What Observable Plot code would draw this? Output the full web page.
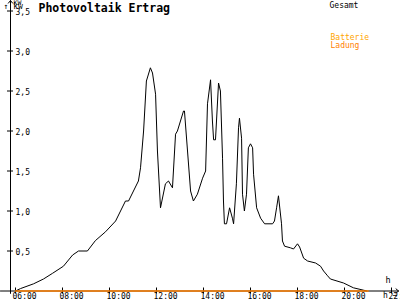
<!DOCTYPE html>
<html><head><meta charset="utf-8">
<script src="https://cdn.jsdelivr.net/npm/d3@7"></script>
<script src="https://cdn.jsdelivr.net/npm/@observablehq/plot@0.6"></script>
<style>body{margin:0;background:#fff}</style>
</head><body><div id="chart"></div>
<script>
const hours = [6.00, 6.21, 6.77, 7.19, 7.57, 8.04, 8.43, 8.68, 9.06, 9.40, 9.83, 10.26, 10.68, 10.81, 11.02, 11.23, 11.32, 11.45, 11.57, 11.74, 11.83, 11.96, 12.04, 12.17, 12.38, 12.51, 12.68, 12.81, 12.89, 13.15, 13.19, 13.32, 13.45, 13.57, 13.74, 13.96, 14.09, 14.17, 14.30, 14.38, 14.43, 14.51, 14.64, 14.72, 14.81, 14.85, 14.89, 14.98, 15.11, 15.23, 15.28, 15.40, 15.49, 15.53, 15.62, 15.66, 15.74, 15.83, 15.91, 16.00, 16.09, 16.13, 16.26, 16.43, 16.60, 16.94, 17.02, 17.11, 17.19, 17.32, 17.36, 17.45, 17.70, 17.83, 18.00, 18.09, 18.26, 18.43, 18.77, 18.98, 19.11, 19.28, 19.40, 19.96, 20.38, 20.81, 20.95];
const gesamtKW = [0.00, 0.03, 0.09, 0.15, 0.22, 0.31, 0.45, 0.50, 0.50, 0.63, 0.74, 0.875, 1.125, 1.125, 1.25, 1.375, 1.54, 2.00, 2.625, 2.79, 2.725, 2.46, 1.75, 1.04, 1.34, 1.375, 1.29, 1.96, 2.00, 2.25, 2.25, 1.75, 1.25, 1.125, 1.21, 1.41, 1.50, 2.34, 2.64, 2.125, 1.89, 1.89, 2.60, 2.50, 1.66, 1.125, 0.84, 0.84, 1.04, 0.91, 0.84, 1.34, 2.04, 2.16, 1.91, 1.21, 1.00, 1.21, 1.79, 1.84, 1.79, 1.46, 1.04, 0.91, 0.84, 0.84, 0.875, 1.04, 1.19, 0.84, 0.625, 0.56, 0.54, 0.525, 0.59, 0.55, 0.41, 0.375, 0.35, 0.31, 0.25, 0.19, 0.15, 0.10, 0.04, 0.01, 0.00];
const batHours = [6, 21];
const batKW = [0, 0];
const xTicks = [6, 8, 10, 12, 14, 16, 18, 20, 22];
const xTickLabels = ["06:00", "08:00", "10:00", "12:00", "14:00", "16:00", "18:00", "20:00", "22:"];
const yTicks = [0.5, 1, 1.5, 2, 2.5, 3, 3.5];
const yTickLabels = ["0,5", "1,0", "1,5", "2,0", "2,5", "3,0", "3,5"];
const title = "Photovoltaik Ertrag";
const seriesNames = ["Gesamt", "Batterie", "Ladung"];
const seriesColors = ["#000000", "#ffa500", "#ff8000"];
const yUnit = "KW";
const xUnit = "h";
const yAxisAt = 5.787;          // hour where the vertical axis sits
const xAxisExtent = [5.36, 22.3];
const yAxisExtent = [-0.03, 3.63];

const gesamt = hours.map((h, i) => ({h, kw: gesamtKW[i]}));
const bat = batHours.map((h, i) => ({h, kw: batKW[i]}));
const mono = "'DejaVu Sans Mono', monospace";

const chart = Plot.plot({
  width: 400, height: 300,
  marginLeft: 10, marginRight: 9, marginTop: 10.5, marginBottom: 9.5,
  x: {domain: [yAxisAt, 22]},
  y: {domain: [0, 3.5]},
  style: {fontFamily: mono, fontSize: "8px", background: "white", color: "black"},
  marks: [
    Plot.arrow([0], {x1: xAxisExtent[0], x2: xAxisExtent[1], y1: 0, y2: 0, stroke: "black", strokeWidth: 1, headLength: 5, headAngle: 80}),
    Plot.arrow([0], {x1: yAxisAt, x2: yAxisAt, y1: yAxisExtent[0], y2: yAxisExtent[1], stroke: "black", strokeWidth: 1, headLength: 5, headAngle: 80}),
    Plot.axisY({ticks: yTicks, anchor: "left", tickSize: 6, dx: 3, tickFormat: () => "", stroke: "black"}),
    Plot.axisX({ticks: xTicks, anchor: "bottom", tickSize: 6, dy: -3, tickFormat: () => "", stroke: "black"}),
    Plot.text(yTicks, {x: yAxisAt, y: d => d, text: (d, i) => yTickLabels[i], textAnchor: "start", dx: 5, dy: 1, fill: "black"}),
    Plot.text(xTicks, {x: d => d, y: 0, text: (d, i) => xTickLabels[i], textAnchor: "start", lineAnchor: "top", dx: -3, dy: 2, fill: "black"}),
    Plot.line(gesamt, {x: "h", y: "kw", stroke: seriesColors[0], strokeWidth: 1}),
    Plot.line(bat, {x: "h", y: "kw", stroke: seriesColors[2], strokeWidth: 1.6}),
    Plot.text([title], {frameAnchor: "top-left", dx: 28, dy: -7.5, lineAnchor: "top", textAnchor: "start", fontWeight: "bold", fontSize: 11.5, fill: "black"}),
    Plot.text([yUnit], {frameAnchor: "top-left", dx: 3, dy: -10.5, lineAnchor: "top", textAnchor: "start", fontSize: 6.5, fill: "black"}),
    Plot.text([xUnit], {frameAnchor: "top-left", dx: 375, dy: 265.5, lineAnchor: "top", textAnchor: "start", fontSize: 8.5, fill: "black"}),
    Plot.text([seriesNames[0]], {frameAnchor: "top-left", dx: 319, dy: -8.5, lineAnchor: "top", textAnchor: "start", fill: seriesColors[0]}),
    Plot.text([seriesNames[1]], {frameAnchor: "top-left", dx: 320, dy: 23.3, lineAnchor: "top", textAnchor: "start", fill: seriesColors[1]}),
    Plot.text([seriesNames[2]], {frameAnchor: "top-left", dx: 320, dy: 31.5, lineAnchor: "top", textAnchor: "start", fill: seriesColors[2]})
  ]
});
document.getElementById("chart").appendChild(chart);
</script>
</body></html>
